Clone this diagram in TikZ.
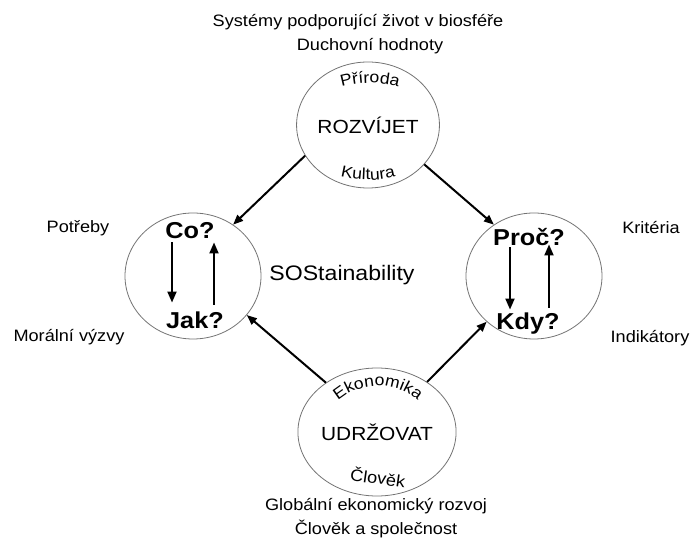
\documentclass[tikz,border=0pt]{standalone}
\usepackage{fontspec}
\setmainfont{Liberation Sans}[FakeStretch=1.1]
\newfontfamily\spacedfont{Liberation Sans}[FakeStretch=1.1, LetterSpace=10]
\usetikzlibrary{shapes.geometric, arrows.meta, positioning, decorations.text}

\begin{document}
\begin{tikzpicture}[x=1pt, y=1pt,
        sphere/.style={draw=black!55, line width=0.8pt, ellipse, minimum width=136pt, minimum height=126pt, inner sep=0pt, font=\fontsize{19}{19}\selectfont},
        question/.style={font=\bfseries\fontsize{23}{23}\selectfont, inner sep=1pt, text height=16.5pt, text depth=0pt},
        note/.style={font=\fontsize{16.5}{16.5}\selectfont, inner sep=1pt},
        arrow/.style={line width=2pt, -{Triangle[length=10pt, width=8pt]}},
        flow/.style={line width=2pt, -{Triangle[length=11pt, width=9pt]}}
    ]
        \useasboundingbox (0,0) rectangle (693,541);

        \node[sphere] (grow) at (368,416) {ROZVÍJET};
        \node[sphere] (what) at (193,265) {};
        \node[sphere] (why) at (534,265) {};
        \node[sphere, minimum width=142pt, minimum height=128pt] (keep) at (377,109) {UDRŽOVAT};

        \node[note] (support) at (358,519) {Systémy podporující život v biosféře};
        \node[note] (spirit) at (370,495) {Duchovní hodnoty};
        \node[note] (growth) at (376,35) {Globální ekonomický rozvoj};
        \node[note] (society) at (376,12) {Člověk a společnost};

        \node[note] (needs) at (78,313) {Potřeby};
        \node[note] (moral) at (69,204) {Morální výzvy};
        \node[note] (criteria) at (651,313) {Kritéria};
        \node[note] (indicators) at (650,203) {Indikátory};

        \node[font=\fontsize{21}{21}\selectfont] (sos) at (342,266) {SOStainability};

        \node[question] (co) at (190,311) {Co?};
        \node[question] (jak) at (195,221) {Jak?};
        \node[question] (proc) at (529,304) {Proč?};
        \node[question] (kdy) at (528,220) {Kdy?};

        % curved words inside the spheres
        \path[decorate, decoration={text along path, text align=center, text={|\fontsize{16}{16}\selectfont|Příroda}}]
            (370,358) ++(125:100pt) arc[start angle=125, end angle=55, radius=100pt];
        \path[decorate, decoration={text along path, text align=center, text={|\fontsize{16}{16}\selectfont|Kultura}}]
            (368,471) ++(245:110pt) arc[start angle=245, end angle=295, radius=110pt];
        \path[decorate, decoration={text along path, text align=center, text={|\spacedfont\fontsize{16}{16}\selectfont|Ekonomika}}]
            (378,94) ++(155:61pt) arc[start angle=155, end angle=25, radius=61pt];
        \node[note, rotate=-8] (human) at (378,64) {Člověk};

        \draw[arrow] (grow.206) -- (what.52);
        \draw[arrow] (grow.325) -- (why.128);
        \draw[arrow] (keep.136) -- (what.-36);
        \draw[arrow] (keep.45) -- (why.224);

        \draw[flow] ([shift={(-18pt,-3pt)}]co.south) -- ([shift={(-23pt,8pt)}]jak.north);
        \draw[flow] ([shift={(19pt,6pt)}]jak.north) -- ([shift={(24pt,-3pt)}]co.south);
        \draw[flow] ([shift={(-19pt,-1pt)}]proc.south) -- ([shift={(-18pt,2pt)}]kdy.north);
        \draw[flow] ([shift={(21pt,4pt)}]kdy.north) -- ([shift={(20pt,2pt)}]proc.south);
    \end{tikzpicture}
\end{document}
